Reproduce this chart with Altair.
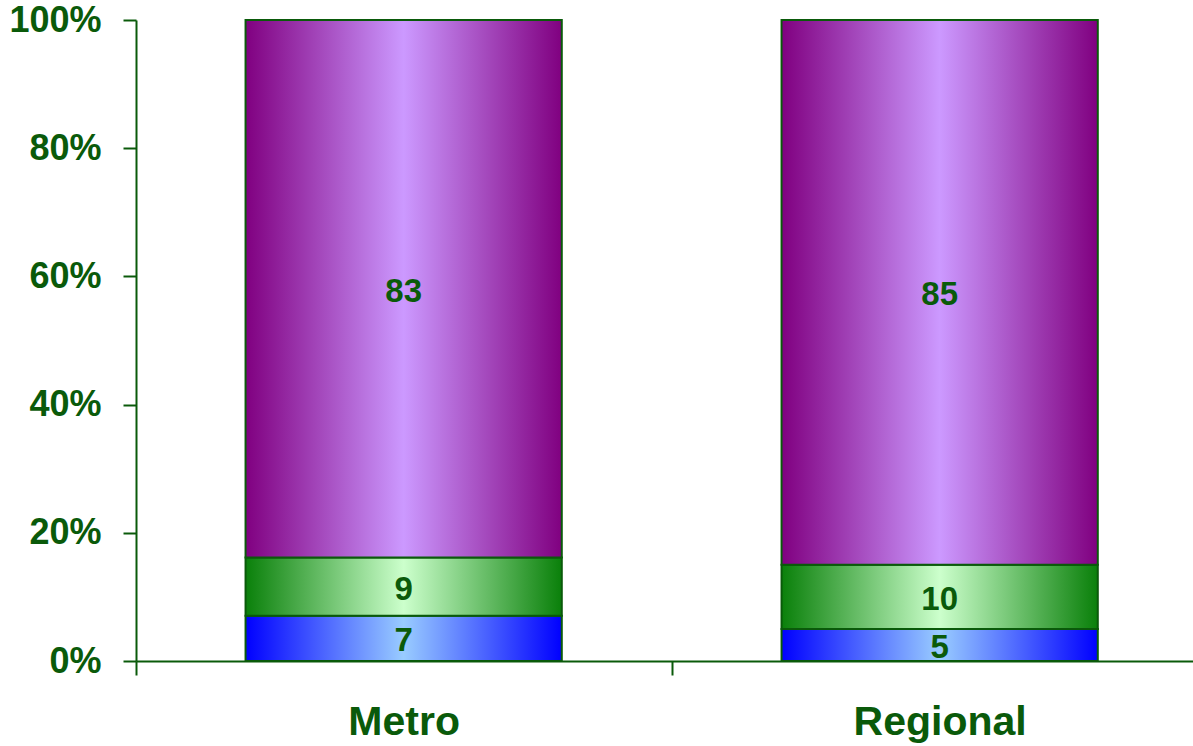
import altair as alt
import pandas as pd

# Share of respondents in each band, by area (stacked to 100%)
categories = ["Metro", "Regional"]
segments = ["Lower", "Middle", "Upper"]
metro_values = [7, 9, 83]
regional_values = [5, 10, 85]
y_tick_values = [0, 0.2, 0.4, 0.6, 0.8, 1.0]

DARK_GREEN = "#0a5a0a"
FONT = "Liberation Sans"

# edge colour, centre colour for the cylinder-style shading of each band
shades = {
    "Lower": ("#0000ff", "#99ccff"),
    "Middle": ("#0a800a", "#ccffcc"),
    "Upper": ("#800080", "#cc99ff"),
}

rows = []
for cat, vals in zip(categories, [metro_values, regional_values]):
    for i, (seg, v) in enumerate(zip(segments, vals)):
        rows.append({"category": cat, "segment": seg, "order": i, "value": v})
df = pd.DataFrame(rows)


def shade(edge, centre):
    return alt.Gradient(
        gradient="linear",
        x1=0, x2=1, y1=0, y2=0,
        stops=[
            alt.GradientStop(color=edge, offset=0),
            alt.GradientStop(color=centre, offset=0.5),
            alt.GradientStop(color=edge, offset=1),
        ],
    )


# ticks sit between the categories; labels stay centred under the bars
x_enc = alt.X(
    "category:N",
    sort=categories,
    title=None,
    scale=alt.Scale(paddingInner=0.41, paddingOuter=0.191, align=0.535),
    axis=alt.Axis(
        bandPosition=0,
        tickOffset=-109.6,
        labelOffset=109.6,
        tickSize=14,
        tickWidth=2,
        tickColor=DARK_GREEN,
        domainColor=DARK_GREEN,
        domainWidth=2,
        labelAngle=0,
        labelFont=FONT,
        labelFontSize=41,
        labelFontWeight="bold",
        labelColor=DARK_GREEN,
        labelPadding=27,
        grid=False,
    ),
)

y_scale = alt.Scale(domain=[0, 1], nice=False, zero=True)
y_axis = alt.Axis(
    values=y_tick_values,
    format="%",
    tickSize=13,
    tickWidth=2,
    tickColor=DARK_GREEN,
    domainColor=DARK_GREEN,
    domainWidth=2,
    labelFont=FONT,
    labelFontSize=36,
    labelFontWeight="bold",
    labelColor=DARK_GREEN,
    labelPadding=22,
    grid=False,
    title=None,
)

base = alt.Chart(df).transform_stack(
    stack="value",
    groupby=["category"],
    as_=["y0", "y1"],
    sort=[alt.SortField("order", order="ascending")],
    offset="normalize",
)

layers = []
for seg in segments:
    edge, centre = shades[seg]
    layers.append(
        base.transform_filter(alt.datum.segment == seg)
        .mark_bar(fill=shade(edge, centre), stroke=DARK_GREEN, strokeWidth=2)
        .encode(
            x=x_enc,
            y=alt.Y("y0:Q", scale=y_scale, axis=y_axis),
            y2="y1:Q",
        )
    )

labels = (
    base.transform_calculate(mid="(datum.y0 + datum.y1) / 2")
    .mark_text(
        font=FONT,
        fontSize=33,
        fontWeight="bold",
        color=DARK_GREEN,
        baseline="middle",
        align="center",
        dy=3,
    )
    .encode(x=x_enc, y=alt.Y("mid:Q", scale=y_scale), text="value:Q")
)

chart = (
    alt.layer(*layers, labels)
    .properties(
        width=1057,
        height=641,
        autosize=alt.AutoSizeParams(type="none"),
        padding={"left": 136, "top": 20, "right": 0, "bottom": 85},
        background="white",
    )
    .configure_view(stroke=None)
)

chart.save("out.html", embed_options={"renderer": "svg", "actions": False})
